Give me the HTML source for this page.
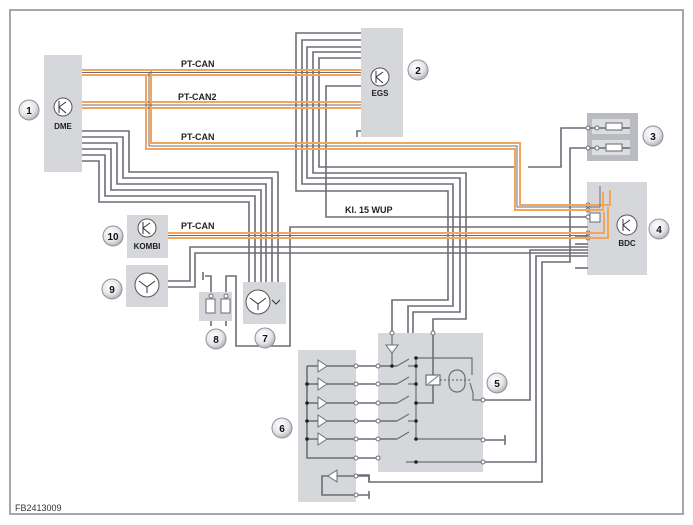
<!DOCTYPE html>
<html><head><meta charset="utf-8"><style>
html,body{margin:0;padding:0;background:#fff;}
svg{display:block;font-family:"Liberation Sans",sans-serif;}
</style></head><body>
<svg width="693" height="525" viewBox="0 0 693 525" xmlns="http://www.w3.org/2000/svg">
<defs>
<radialGradient id="cg" cx="40%" cy="35%" r="70%">
<stop offset="0" stop-color="#ffffff"/><stop offset="0.6" stop-color="#e4e5e8"/><stop offset="1" stop-color="#a9abb0"/>
</radialGradient>
</defs>
<rect x="10" y="10" width="673" height="504" fill="#fff" stroke="#a5a7ad" stroke-width="2"/>
<text x="15" y="511" font-size="9" fill="#333">FB2413009</text>

<!-- boxes -->
<g fill="#d6d7da">
<rect x="44" y="55" width="38" height="117"/>
<rect x="361" y="28" width="42" height="109"/>
<rect x="587" y="182" width="60" height="93"/>
<rect x="127" y="215" width="41" height="43"/>
<rect x="126" y="265" width="42" height="42"/>
<rect x="199" y="292" width="33" height="29"/>
<rect x="243" y="282" width="43" height="42"/>
<rect x="378" y="333" width="105" height="139"/>
<rect x="298" y="350" width="58" height="152"/>
</g>
<rect x="587" y="113" width="51" height="48" fill="#b9bbc0"/>
<rect x="592" y="119" width="38" height="15" fill="#dcdde0"/>
<rect x="592" y="140" width="38" height="15" fill="#dcdde0"/>
<rect x="606" y="123" width="16" height="7" fill="#fff" stroke="#666" stroke-width="1"/>
<rect x="606" y="144" width="16" height="7" fill="#fff" stroke="#666" stroke-width="1"/>

<!-- grey wires -->
<g fill="none" stroke="#6c6e76" stroke-width="1.6">
<!-- EGS bundle -->
<polyline points="361,33 296,33 296,191 448,191 448,300 392,300 392,333"/>
<polyline points="361,40 302,40 302,184 453,184 453,306 408,306 408,333"/>
<polyline points="361,47 307,47 307,178 460,178 460,312 413,312 413,333"/>
<polyline points="361,52 313,52 313,173 466,173 466,319 433,319 433,403 416,403"/>
<polyline points="361,58 319,58 319,167 515,167"/>
<polyline points="528,167 561,167 561,128 588,128 606,128"/>
<polyline points="361,86 326,86 326,217 588,217"/>
<polyline points="357,137 357,131 361,131"/>
<!-- fuse 2 -->
<polyline points="622,128 630,128"/>
<polyline points="622,148 630,148"/>
<polyline points="606,148 570,148 570,262 542,262 542,482 369,482 369,475 356,475"/>
<!-- BDC lower -->
<polyline points="588,250 530,250 530,400 483,400"/>
<polyline points="588,256 536,256 536,462 483,462"/>
<line x1="588" y1="268" x2="575" y2="268"/>
<line x1="588" y1="244" x2="575" y2="244"/>
<line x1="483" y1="440" x2="505" y2="440"/>
<line x1="505" y1="435" x2="505" y2="445"/>
<!-- DME to 7 -->
<polyline points="82,131 129,131 129,172 278,172 278,282"/>
<polyline points="82,137 123,137 123,178 272,178 272,282"/>
<polyline points="82,143 117,143 117,184 266,184 266,282"/>
<polyline points="82,149 111,149 111,190 261,190 261,282"/>
<polyline points="82,155 105,155 105,196 255,196 255,282"/>
<polyline points="82,161 99,161 99,202 249,202 249,282"/>
<!-- 9 -->
<polyline points="168,281 190,281 190,247 588,247"/>
<polyline points="168,287 195,287 195,253 588,253"/>
<!-- 7/8 -->
<polyline points="588,227 290,227 290,346 236,346 236,276 226,276 226,292"/>
<polyline points="211,292 211,276 205,276"/>
<line x1="203" y1="272" x2="203" y2="280"/>
<line x1="211" y1="321" x2="211" y2="326"/><line x1="226" y1="321" x2="226" y2="326"/>
<line x1="588" y1="236" x2="575" y2="236"/>
<!-- comp6 -->
<polyline points="307,366 307,458 378,458"/>
<line x1="307" y1="366" x2="397" y2="366"/>
<line x1="307" y1="384" x2="397" y2="384"/>
<line x1="307" y1="403" x2="397" y2="403"/>
<line x1="307" y1="421" x2="397" y2="421"/>
<line x1="307" y1="439" x2="397" y2="439"/>
<polyline points="356,476 322,476 322,495 356,495 369,495"/>
<line x1="369" y1="491" x2="369" y2="499"/>
<polyline points="356,476 369,476 369,482"/>
<!-- comp5 switches -->
<g stroke-width="1.2">
<line x1="397" y1="366" x2="409" y2="359"/><line x1="397" y1="384" x2="409" y2="377"/>
<line x1="397" y1="403" x2="409" y2="396"/><line x1="397" y1="421" x2="409" y2="414"/>
<line x1="397" y1="439" x2="409" y2="432"/>
<line x1="408" y1="366" x2="416" y2="366"/><line x1="408" y1="384" x2="416" y2="384"/>
<line x1="408" y1="421" x2="416" y2="421"/>
<line x1="416" y1="358" x2="416" y2="440"/><line x1="416" y1="439" x2="483" y2="439"/>
<polyline points="416,358 472,358 472,375"/>
<polyline points="470,383 473,393 473,400 483,400"/>
<line x1="406" y1="462" x2="483" y2="462"/>
<line x1="392" y1="333" x2="392" y2="366"/>
<line x1="440" y1="380" x2="470" y2="380" stroke-dasharray="2,2"/>
</g>
</g>
<rect x="426" y="375" width="14" height="10" fill="#fff" stroke="#6c6e76" stroke-width="1.2"/>
<line x1="428" y1="384" x2="438" y2="376" stroke="#6c6e76"/>
<rect x="449" y="370" width="16" height="22" rx="8" fill="none" stroke="#6c6e76" stroke-width="1.2"/>
<g fill="#222">
<circle cx="392" cy="366" r="1.8"/><circle cx="416" cy="366" r="1.8"/><circle cx="416" cy="384" r="1.8"/>
<circle cx="416" cy="403" r="1.8"/><circle cx="416" cy="421" r="1.8"/><circle cx="416" cy="439" r="1.8"/>
<circle cx="416" cy="358" r="1.8"/><circle cx="416" cy="462" r="1.8"/>
<circle cx="307" cy="384" r="1.8"/><circle cx="307" cy="403" r="1.8"/><circle cx="307" cy="421" r="1.8"/><circle cx="307" cy="439" r="1.8"/>
</g>
<g fill="#fff" stroke="#6c6e76" stroke-width="1">
<circle cx="356" cy="366" r="2"/><circle cx="356" cy="384" r="2"/><circle cx="356" cy="403" r="2"/><circle cx="356" cy="421" r="2"/><circle cx="356" cy="439" r="2"/><circle cx="356" cy="458" r="2"/>
<circle cx="378" cy="366" r="2"/><circle cx="378" cy="384" r="2"/><circle cx="378" cy="403" r="2"/><circle cx="378" cy="421" r="2"/><circle cx="378" cy="439" r="2"/><circle cx="378" cy="458" r="2"/>
<circle cx="356" cy="476" r="2"/><circle cx="356" cy="495" r="2"/>
<circle cx="392" cy="333" r="2"/><circle cx="433" cy="333" r="2"/>
<circle cx="483" cy="400" r="2"/><circle cx="483" cy="440" r="2"/><circle cx="483" cy="462" r="2"/>
<circle cx="597" cy="128" r="2"/><circle cx="597" cy="148" r="2"/><circle cx="588" cy="128" r="2"/><circle cx="588" cy="148" r="2"/>
<circle cx="588" cy="205" r="2"/><circle cx="588" cy="210" r="2"/><circle cx="588" cy="217" r="2"/><circle cx="588" cy="233" r="2"/><circle cx="588" cy="238" r="2"/>
<circle cx="211" cy="296" r="2"/><circle cx="226" cy="296" r="2"/>
</g>
<!-- LEDs -->
<g fill="#fff" stroke="#6c6e76" stroke-width="1">
<path d="M318,360 L318,372 L327,366 Z"/><path d="M318,378 L318,390 L327,384 Z"/><path d="M318,397 L318,409 L327,403 Z"/>
<path d="M318,415 L318,427 L327,421 Z"/><path d="M318,433 L318,445 L327,439 Z"/><path d="M337,470 L337,482 L328,476 Z"/>
<path d="M386,345 L398,345 L392,353 Z"/>
<rect x="206" y="299" width="9" height="14"/><rect x="221" y="299" width="9" height="14"/>
<rect x="590" y="213" width="10" height="9"/>
</g>
<!-- orange CAN -->
<g fill="none" stroke="#f4a55c" stroke-width="2">
<line x1="82" y1="70" x2="361" y2="70"/><line x1="82" y1="75" x2="361" y2="75"/>
<line x1="82" y1="102" x2="361" y2="102"/><line x1="82" y1="108" x2="361" y2="108"/>
<polyline points="151,70 151,143 520,143 520,205 588,205 610,205 610,190"/>
<polyline points="146,75 146,149 515,149 515,210 588,210 603,210 603,192"/>
<line x1="168" y1="233" x2="588" y2="233"/><line x1="168" y1="238" x2="588" y2="238"/>
<polyline points="588,233 604,233 604,212"/><polyline points="588,238 608,238 608,207"/>
</g>
<g fill="none" stroke="#6c6e76" stroke-width="1">
<line x1="82" y1="72.5" x2="361" y2="72.5"/><line x1="82" y1="105" x2="361" y2="105"/>
<polyline points="149,72 149,146 517,146 517,207 588,207 600,207 600,186"/>
<line x1="168" y1="235.5" x2="588" y2="235.5"/>
</g>
<!-- icons -->
<g fill="#fff" stroke="#555" stroke-width="1">
<circle cx="63" cy="107" r="9"/><circle cx="380" cy="77" r="9"/><circle cx="627" cy="225" r="10"/>
<circle cx="147" cy="228" r="9"/><circle cx="147" cy="285" r="12"/><circle cx="258" cy="302" r="12"/>
</g>
<g stroke="#333" stroke-width="1" fill="none">
<path d="M59,101 v12 M59,107 l7,-5 M59,107 l7,6"/><path d="M376,71 v12 M376,77 l7,-5 M376,77 l7,6"/>
<path d="M623,219 v12 M623,225 l7,-5 M623,225 l7,6"/><path d="M143,222 v12 M143,228 l7,-5 M143,228 l7,6"/>
<path d="M139,281 l8,6 l8,-6 M147,287 v6"/><path d="M250,298 l8,6 l8,-6 M258,304 v6 M272,300 l4,4 l4,-4"/>
</g>
<g font-weight="bold" fill="#222" text-anchor="middle">
<text x="63" y="129" font-size="8">DME</text><text x="380" y="96" font-size="8">EGS</text>
<text x="627" y="246" font-size="8">BDC</text><text x="147" y="249" font-size="8">KOMBI</text>
</g>
<g font-weight="bold" fill="#222" font-size="9">
<text x="181" y="67">PT-CAN</text><text x="178" y="100">PT-CAN2</text><text x="181" y="140">PT-CAN</text>
<text x="181" y="229">PT-CAN</text><text x="345" y="213">Kl. 15 WUP</text>
</g>
<!-- callouts -->
<g stroke="#8e9096" stroke-width="1" fill="url(#cg)">
<circle cx="29" cy="110" r="10"/><circle cx="418" cy="70" r="10"/><circle cx="653" cy="136" r="10"/>
<circle cx="659" cy="229" r="10"/><circle cx="497" cy="383" r="10"/><circle cx="282" cy="428" r="10"/>
<circle cx="265" cy="338" r="10"/><circle cx="216" cy="339" r="10"/><circle cx="112" cy="289" r="10"/><circle cx="113" cy="236" r="10"/>
</g>
<g font-weight="bold" fill="#111" font-size="10" text-anchor="middle">
<text x="29" y="114">1</text><text x="418" y="74">2</text><text x="653" y="140">3</text><text x="659" y="233">4</text>
<text x="497" y="387">5</text><text x="282" y="432">6</text><text x="265" y="342">7</text><text x="216" y="343">8</text>
<text x="112" y="293">9</text><text x="113" y="240">10</text>
</g>
</svg>
</body></html>
